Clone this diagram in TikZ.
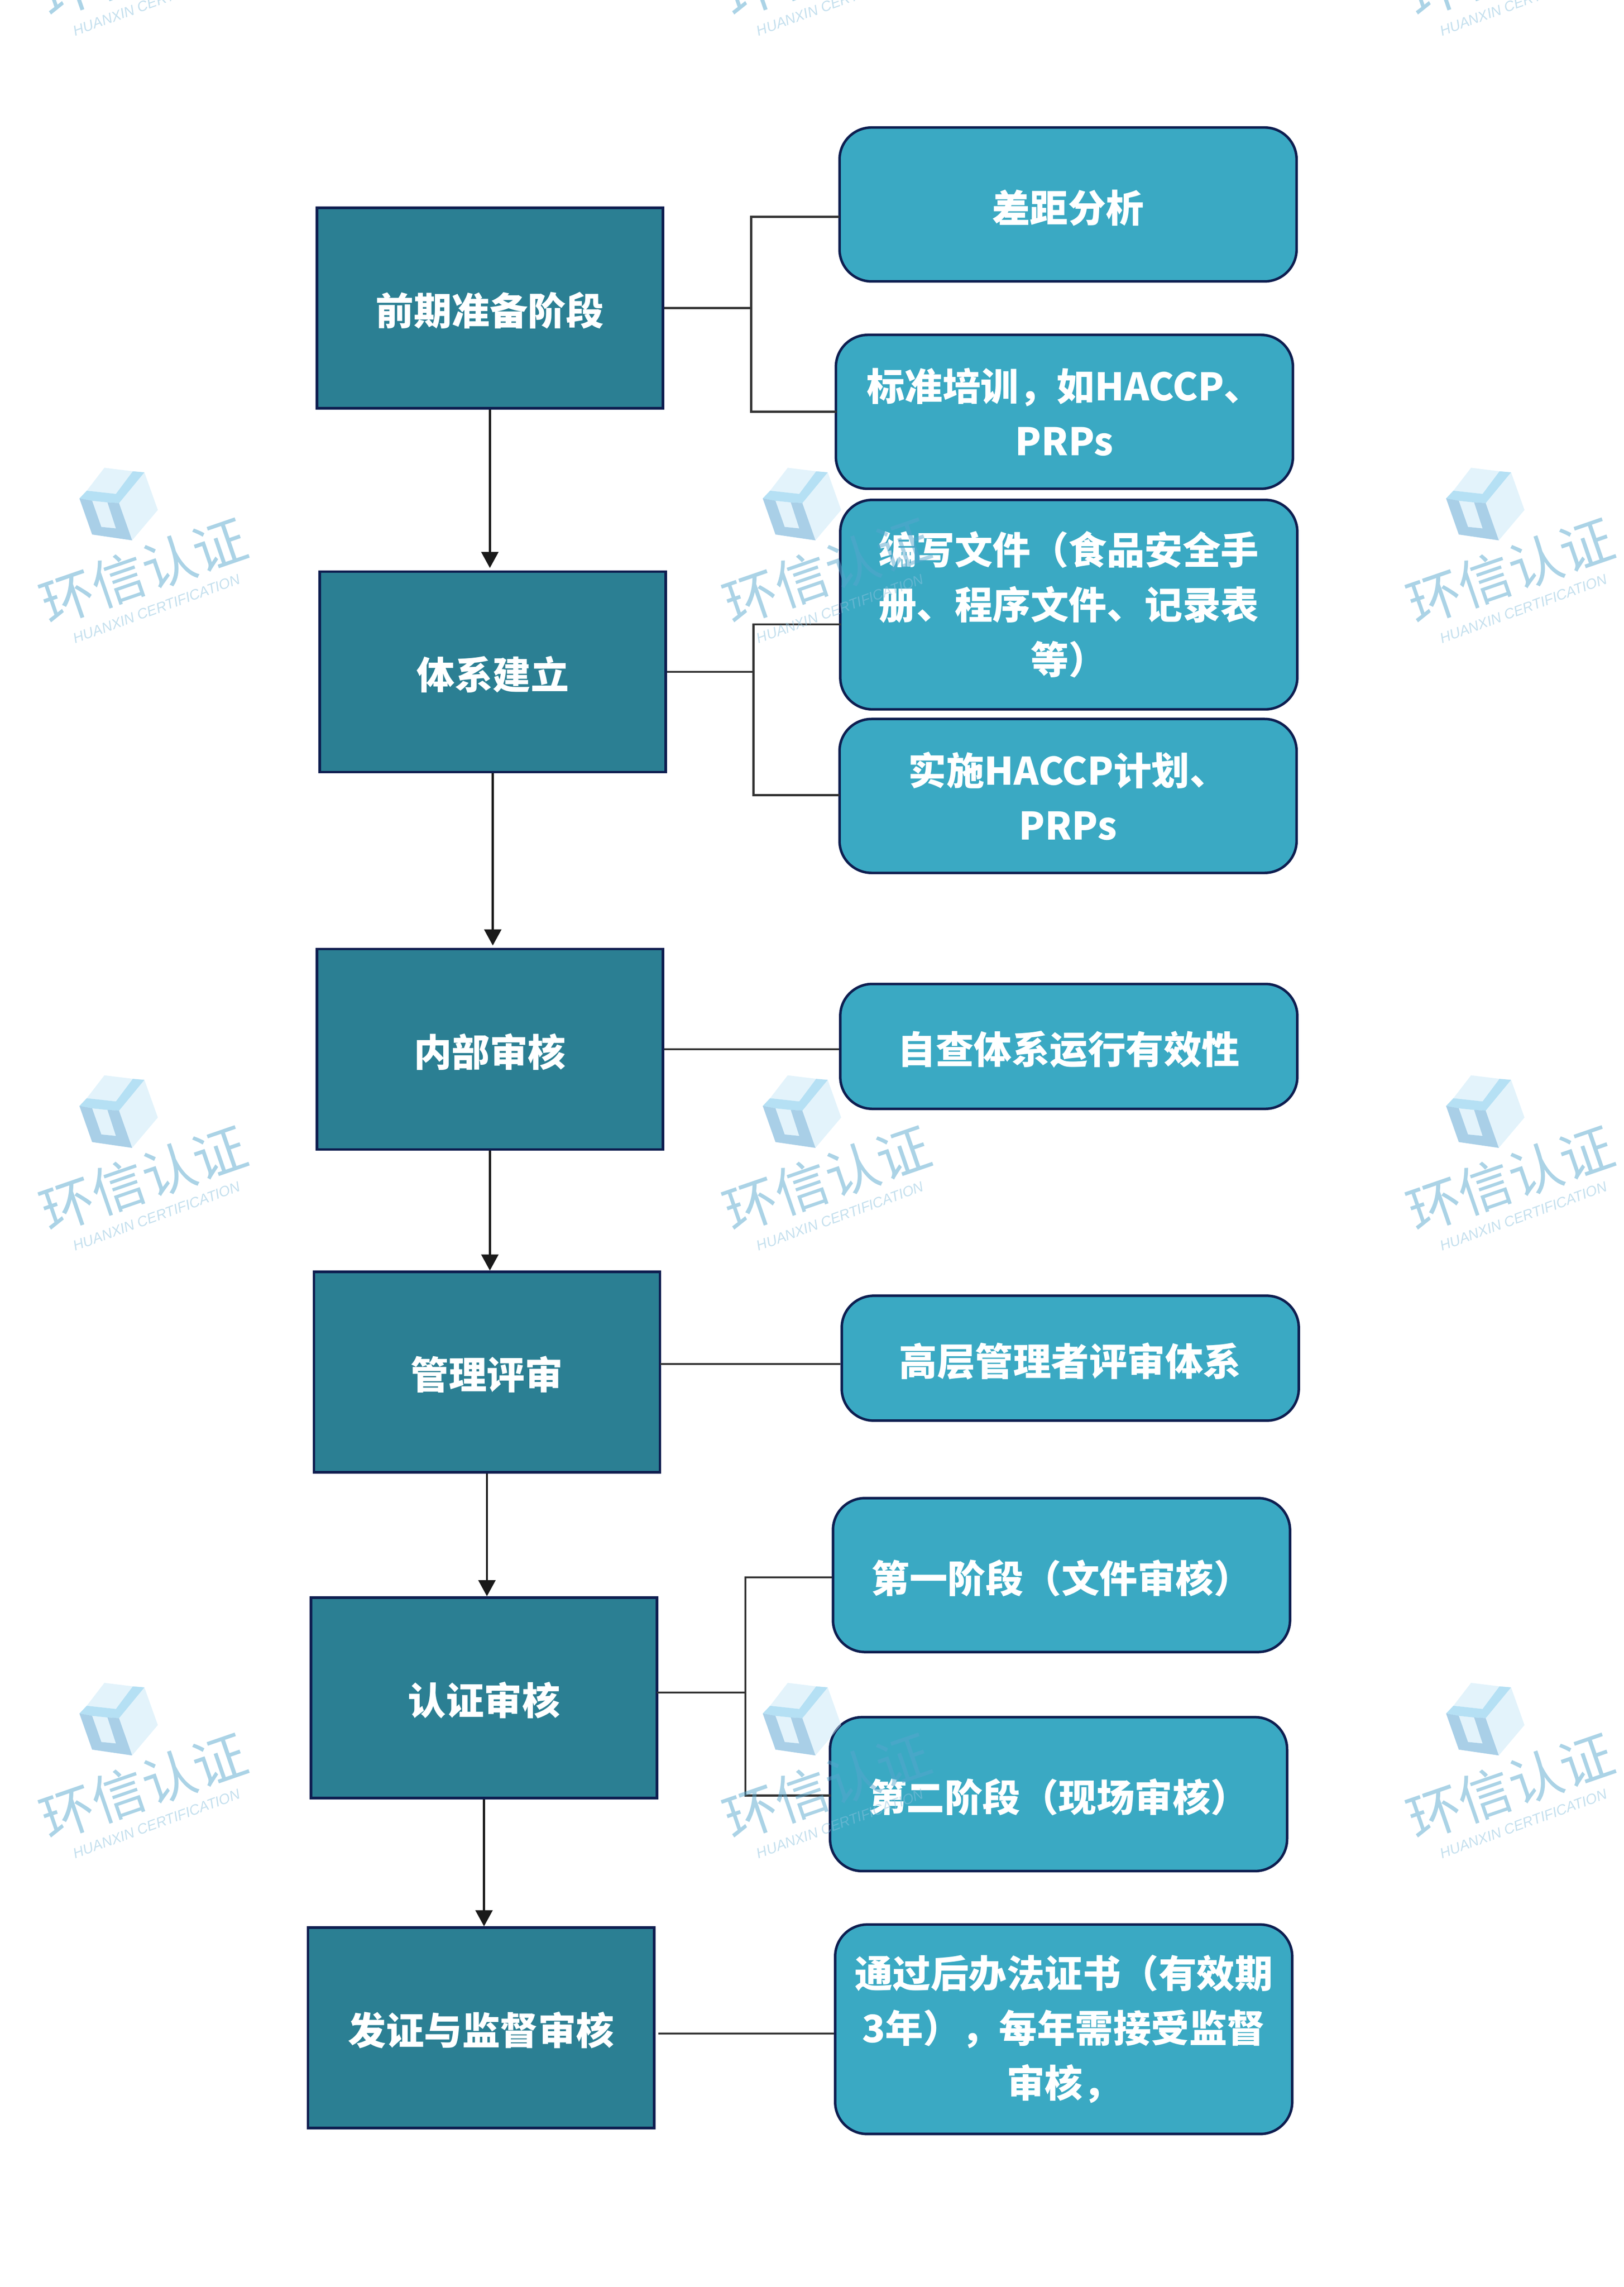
\documentclass[tikz,border=0pt]{standalone}
\usepackage{fontspec}
\setmainfont{Noto Sans CJK SC}
\newfontfamily\markfont{Liberation Sans}
\usetikzlibrary{arrows.meta}
\definecolor{stageteal}{HTML}{2B7F93}
\definecolor{detailblue}{HTML}{3AA9C3}
\definecolor{edgenavy}{HTML}{0E1E50}
\definecolor{linkgrey}{HTML}{333333}
\definecolor{flowblack}{HTML}{1A1A1A}
\definecolor{markpale}{HTML}{C8E8F8}
\definecolor{marktop}{HTML}{6BC1E9}
\definecolor{markside}{HTML}{539FD0}
\definecolor{markcn}{HTML}{57A7CD}
\definecolor{marken}{HTML}{8BC1DD}
\tikzset{
    stagebox/.style={draw=edgenavy, line width=1.1pt, fill=stageteal, text=white, font=\bfseries\fontsize{16.5}{23.8}\selectfont, align=center, inner sep=0pt, minimum width=150.2pt, minimum height=87pt, execute at begin node={\rule{0pt}{16.5pt}}},
    detailbox/.style={draw=edgenavy, line width=1.1pt, fill=detailblue, text=white, font=\bfseries\fontsize{16.5}{23.8}\selectfont, align=center, inner sep=0pt, rounded corners=13.9pt, minimum width=198.4pt, minimum height=66.8pt, execute at begin node={\rule{0pt}{17pt}}},
    pairbox/.style={detailbox, execute at begin node={}},
    flowline/.style={draw=flowblack, line width=0.9pt, -{Triangle[width=7.4pt,length=7pt]}},
    linkline/.style={draw=linkgrey, line width=0.9pt}
}
\begin{document}
\begin{tikzpicture}[x=0.6338pt,y=-0.6338pt]
    \useasboundingbox (0,0) rectangle (1112,1566);
    \node[stagebox] (prep) at (335.5,211) {前期准备阶段};
    \node[stagebox] (build) at (337.5,460) {体系建立};
    \node[stagebox] (audit) at (335.5,718.5) {内部审核};
    \node[stagebox] (review) at (333.5,939.5) {管理评审};
    \node[stagebox] (certify) at (331.5,1162.5) {认证审核};
    \node[stagebox] (issue) at (329.5,1388.5) {发证与监督审核};
    \node[detailbox] (gap) at (731.5,140) {差距分析};
    \node[pairbox] (train) at (729,282) {标准培训，如HACCP、\\PRPs};
    \node[detailbox, minimum height=90.9pt] (write) at (732,414) {编写文件（食品安全手\\册、程序文件、记录表\\等）};
    \node[pairbox] (impl) at (731.5,545) {实施HACCP计划、\\PRPs};
    \node[detailbox, minimum height=54.2pt] (self) at (732,716.5) {自查体系运行有效性};
    \node[detailbox, minimum height=54.2pt] (mgmt) at (733,930) {高层管理者评审体系};
    \node[detailbox] (stageone) at (727,1078.5) {第一阶段（文件审核）};
    \node[detailbox] (stagetwo) at (725,1228.5) {第二阶段（现场审核）};
    \node[detailbox, minimum height=90.9pt] (licence) at (728.5,1389.5) {通过后办法证书（有效期\\3年），每年需接受监督\\审核，};
    \draw[flowline, shorten >=1pt] (prep) -- (prep |- build.north);
    \draw[flowline, shorten >=1pt] (build) -- (build |- audit.north);
    \draw[flowline] (audit) -- (audit |- review.north);
    \draw[flowline] (review) -- (review |- certify.north);
    \draw[flowline] (certify) -- (certify |- issue.north);
    \coordinate (busa) at (514.5,211);
    \coordinate (gapin) at (575,148.5);
    \coordinate (trainin) at (573,282);
    \draw[linkline] (prep.east) -- (busa);
    \draw[linkline] (gapin) -| (busa) |- (trainin);
    \coordinate (busb) at (516,460);
    \coordinate (writein) at (576,427.5);
    \coordinate (implin) at (575,544.5);
    \draw[linkline] (build.east) -- (busb);
    \draw[linkline] (writein) -| (busb) |- (implin);
    \draw[linkline] (audit.east) -- (self.west |- audit.east);
    \coordinate (mgmtout) at (452,934);
    \draw[linkline] (mgmtout) -- (mgmt.west |- mgmtout);
    \coordinate (busc) at (510.5,1159);
    \coordinate (certout) at (450,1159);
    \coordinate (onein) at (570,1080);
    \coordinate (twoin) at (569,1229.5);
    \draw[linkline] (certout) -- (busc);
    \draw[linkline] (onein) -| (busc) |- (twoin);
    \coordinate (issueout) at (451,1392.5);
    \draw[linkline] (issueout) -- (licence.west |- issueout);
    \foreach \dx in {0,468,936} {
        \foreach \dy in {-416,0,416,832} {
            \begin{scope}[shift={(\dx,\dy)}, opacity=0.5]
                \fill[markpale] (71.5,320.3) -- (91,322.7) -- (79.4,338.2) -- (59.4,336) -- cycle;
                \fill[markpale] (98.9,323.4) -- (108.1,349.2) -- (90.5,370) -- (81.5,344.5) -- cycle;
                \fill[markpale] (63.1,342.9) -- (73.6,344) -- (79.4,361.8) -- (69.4,360.8) -- cycle;
                \fill[marktop] (59.4,336) -- (79.4,338.2) -- (91,322.7) -- (98.9,323.4) -- (81.5,344.5) -- (73.6,344) -- (63.1,342.9) -- (54.4,341.3) -- cycle;
                \fill[markside] (54.4,341.3) -- (63.1,342.9) -- (69.4,360.8) -- (79.4,361.8) -- (73.6,344) -- (81.5,344.5) -- (90.5,370) -- (63.1,366) -- cycle;
                \node[rotate=19, text=markcn, inner sep=0pt, font=\fontsize{23.2}{23.2}\selectfont] at (98.4,391) {环信认证};
                \node[rotate=20, text=marken, inner sep=0pt, font=\markfont\itshape\fontsize{6.2}{6.2}\selectfont] at (107.3,416.8) {HUANXIN CERTIFICATION};
            \end{scope}
        }
    }
\end{tikzpicture}
\end{document}
